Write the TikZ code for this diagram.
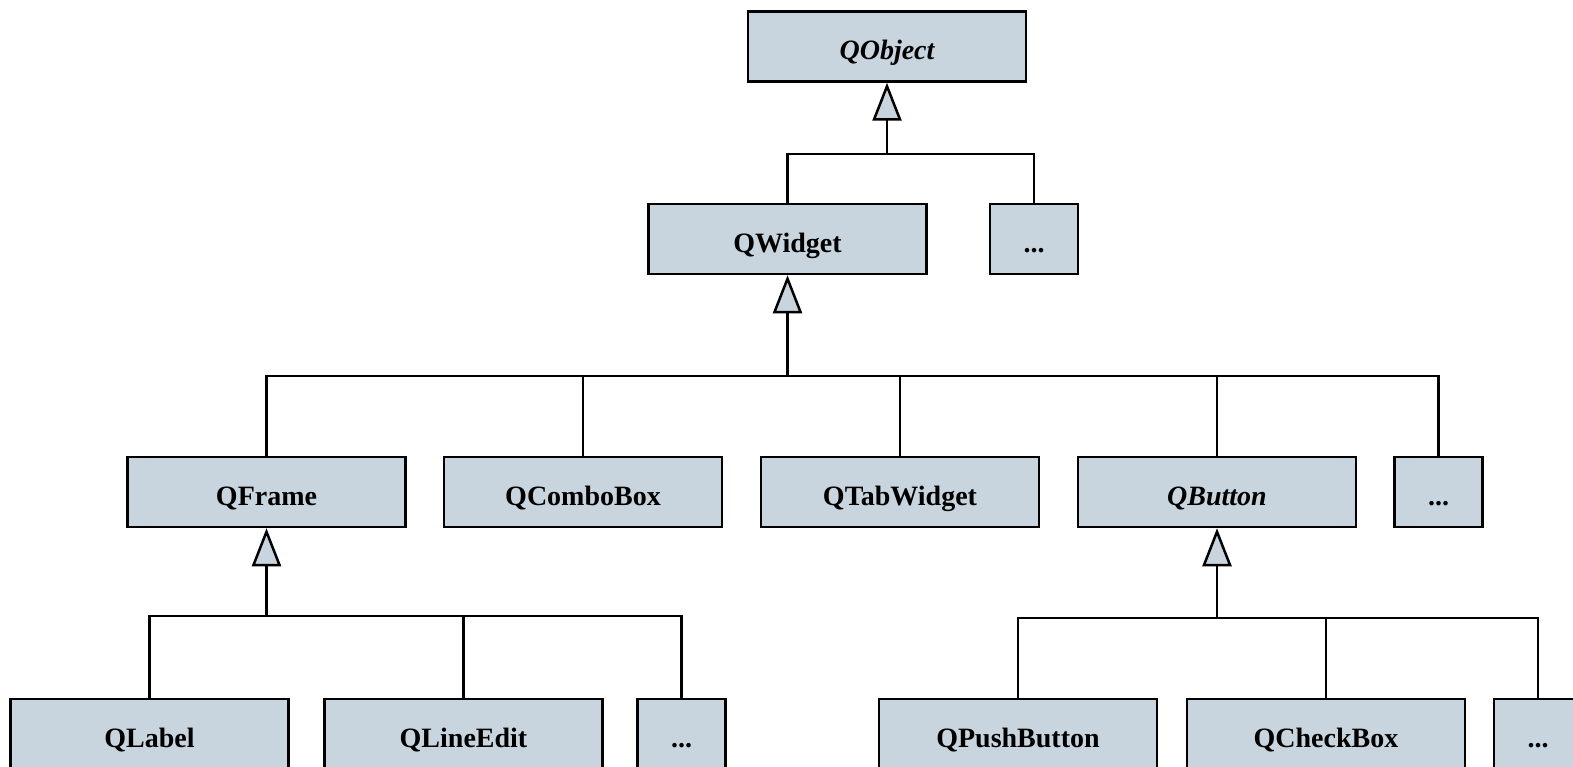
\documentclass[tikz,border=0pt]{standalone}
\usepackage{fontspec}
\setmainfont{Liberation Serif}
\usetikzlibrary{arrows.meta}
\definecolor{boxfill}{HTML}{C9D5DE}
\tikzset{
  cls/.style={draw=black, line width=2.5pt, fill=boxfill, inner sep=0pt,
    minimum width=278pt, minimum height=70pt, text height=31pt, text depth=4pt,
    font=\fontsize{28}{32}\selectfont\bfseries},
  small/.style={cls, minimum width=88pt},
  conn/.style={draw=black, line width=2.5pt},
  inh/.style={conn, -{Triangle[width=29pt,length=38pt,fill=boxfill,line width=2.5pt]}}
}
\begin{document}
\begin{tikzpicture}[x=1pt,y=-1pt]
\useasboundingbox (0,0) rectangle (1573,767);
% level 0
\node[cls] (qobject) at (887,46.5) {\itshape QObject};
% level 1
\node[cls] (qwidget) at (787.5,239) {QWidget};
\node[small] (dots1) at (1034,239) {...};
% level 2
\node[cls] (qframe) at (266.5,492) {QFrame};
\node[cls] (qcombo) at (583,492) {QComboBox};
\node[cls] (qtab) at (900,492) {QTabWidget};
\node[cls] (qbutton) at (1217,492) {\itshape QButton};
\node[small] (dots2) at (1438.5,492) {...};
% level 3
\node[cls] (qlabel) at (149.5,734) {QLabel};
\node[cls] (qline) at (463.5,734) {QLineEdit};
\node[small] (dots3) at (681.5,734) {...};
\node[cls] (qpush) at (1018,734) {QPushButton};
\node[cls] (qcheck) at (1326,734) {QCheckBox};
\node[small] (dots4) at (1538,734) {...};
% buses
\coordinate (b0) at (887,154);
\coordinate (b1) at (787.5,376);
\coordinate (b2) at (266.5,616);
\coordinate (b3) at (1217,618);
% inheritance arrows
\draw[inh] (b0) -- (qobject.south);
\draw[inh] (b1) -- (qwidget.south);
\draw[inh] (b2) -- (qframe.south);
\draw[inh] (b3) -- (qbutton.south);
% children
\draw[conn] (qwidget.north) |- (b0);
\draw[conn] (dots1.north) |- (b0);
\draw[conn] (qframe.north) |- (b1);
\draw[conn] (qcombo.north) |- (b1);
\draw[conn] (qtab.north) |- (b1);
\draw[conn] (qbutton.north) |- (b1);
\draw[conn] (dots2.north) |- (b1);
\draw[conn] (qlabel.north) |- (b2);
\draw[conn] (qline.north) |- (b2);
\draw[conn] (dots3.north) |- (b2);
\draw[conn] (qpush.north) |- (b3);
\draw[conn] (qcheck.north) |- (b3);
\draw[conn] (dots4.north) |- (b3);
\end{tikzpicture}
\end{document}
